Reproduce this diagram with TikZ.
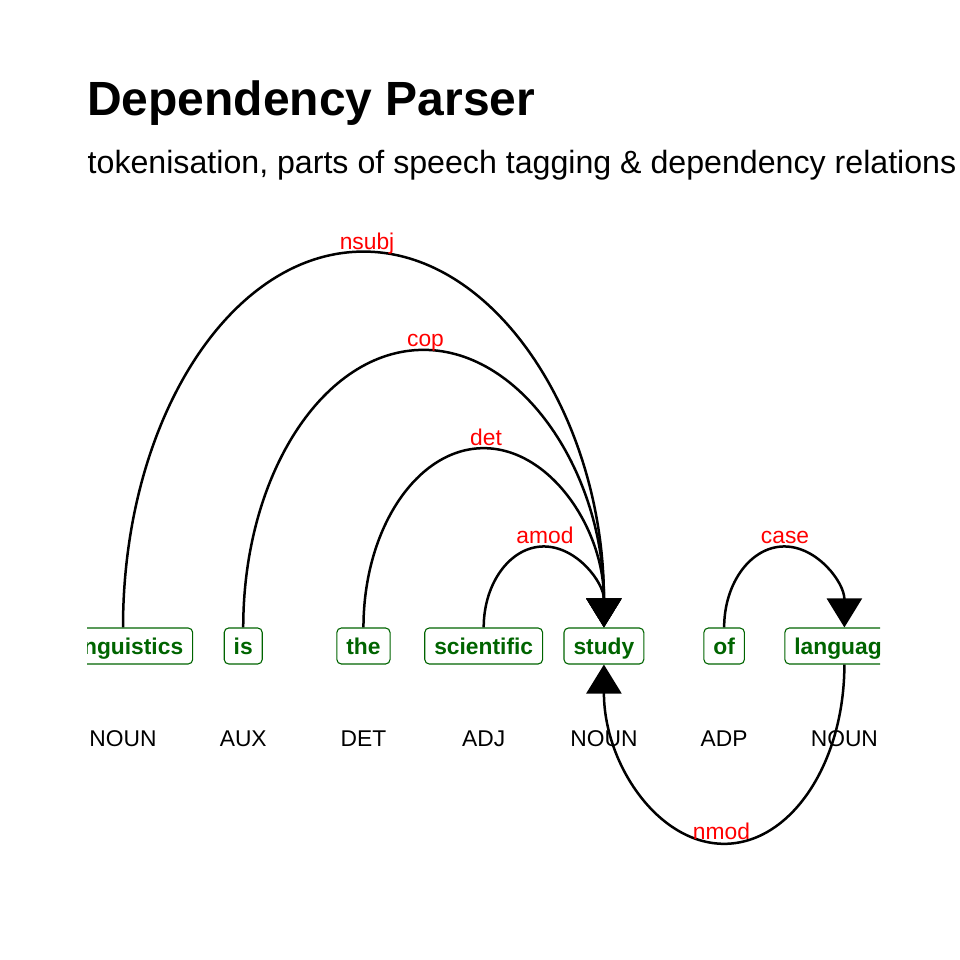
\documentclass[tikz,border=0pt]{standalone}
\usepackage{fontspec}
\setmainfont{Liberation Sans}
\usetikzlibrary{arrows.meta,calc}

\definecolor{wordgreen}{RGB}{0,100,0}

\begin{document}
\begin{tikzpicture}[x=1pt,y=1pt,
  word/.style={draw=wordgreen,text=wordgreen,line width=1.1pt,rounded corners=4.5pt,
    text height=19pt,text depth=2pt,inner xsep=9.5pt,inner ysep=7.5pt,
    font=\fontsize{22.8}{26}\selectfont\bfseries},
  tag/.style={anchor=base,inner sep=0pt,font=\fontsize{22.8}{26}\selectfont},
  rel/.style={anchor=base,inner sep=0pt,text=red,font=\fontsize{22.8}{26}\selectfont},
  dep/.style={line width=2.5pt,-{Triangle[length=29pt,width=35pt]}},
  over/.style={to path={let \p1=($(\tikztotarget)-(\tikztostart)$) in
    arc[start angle=180,end angle=0,x radius=0.5*\x1,y radius=0.8175*\x1-17.3pt]}},
  under/.style={to path={let \p1=($(\tikztostart)-(\tikztotarget)$) in
    arc[start angle=0,end angle=-180,x radius=0.5*\x1,y radius=0.8175*\x1-17.3pt]}}]
\useasboundingbox (0,0) rectangle (960,960);
% title and subtitle
\node[anchor=base west,inner sep=0pt,font=\fontsize{48}{52}\selectfont\bfseries] (title) at (87,844) {Dependency Parser};
\node[anchor=base west,inner sep=0pt,font=\fontsize{32.15}{36}\selectfont] (subtitle) at (87.5,786) {tokenisation, parts of speech tagging \& dependency relations};
\begin{scope}
\clip (87,0) rectangle (880,960);
% tokens and their tags
\foreach \name/\word/\pos [count=\i from 0] in {ling/Linguistics/NOUN,is/is/AUX,the/the/DET,sci/scientific/ADJ,study/study/NOUN,of/of/ADP,lang/language/NOUN} {
  \node[word] (\name) at ({123+120.23*\i},314) {\word};
  \node[tag] (\name-pos) at ({123+120.23*\i},213) {\pos};
}
% relations
\draw[dep] (ling.north) to[over] (study.north);
\draw[dep] (is.north) to[over] (study.north);
\draw[dep] (the.north) to[over] (study.north);
\draw[dep] (sci.north) to[over] (study.north);
\draw[dep] (of.north) to[over] (lang.north);
\draw[dep] (lang.south) to[under] (study.south);
\node[rel] (nsubj) at (367,710) {nsubj};
\node[rel] (cop) at (425.5,613) {cop};
\node[rel] (det) at (486,514) {det};
\node[rel] (amod) at (545,416) {amod};
\node[rel] (case) at (785,416) {case};
\node[rel] (nmod) at (721.5,120) {nmod};
\end{scope}
\end{tikzpicture}
\end{document}
